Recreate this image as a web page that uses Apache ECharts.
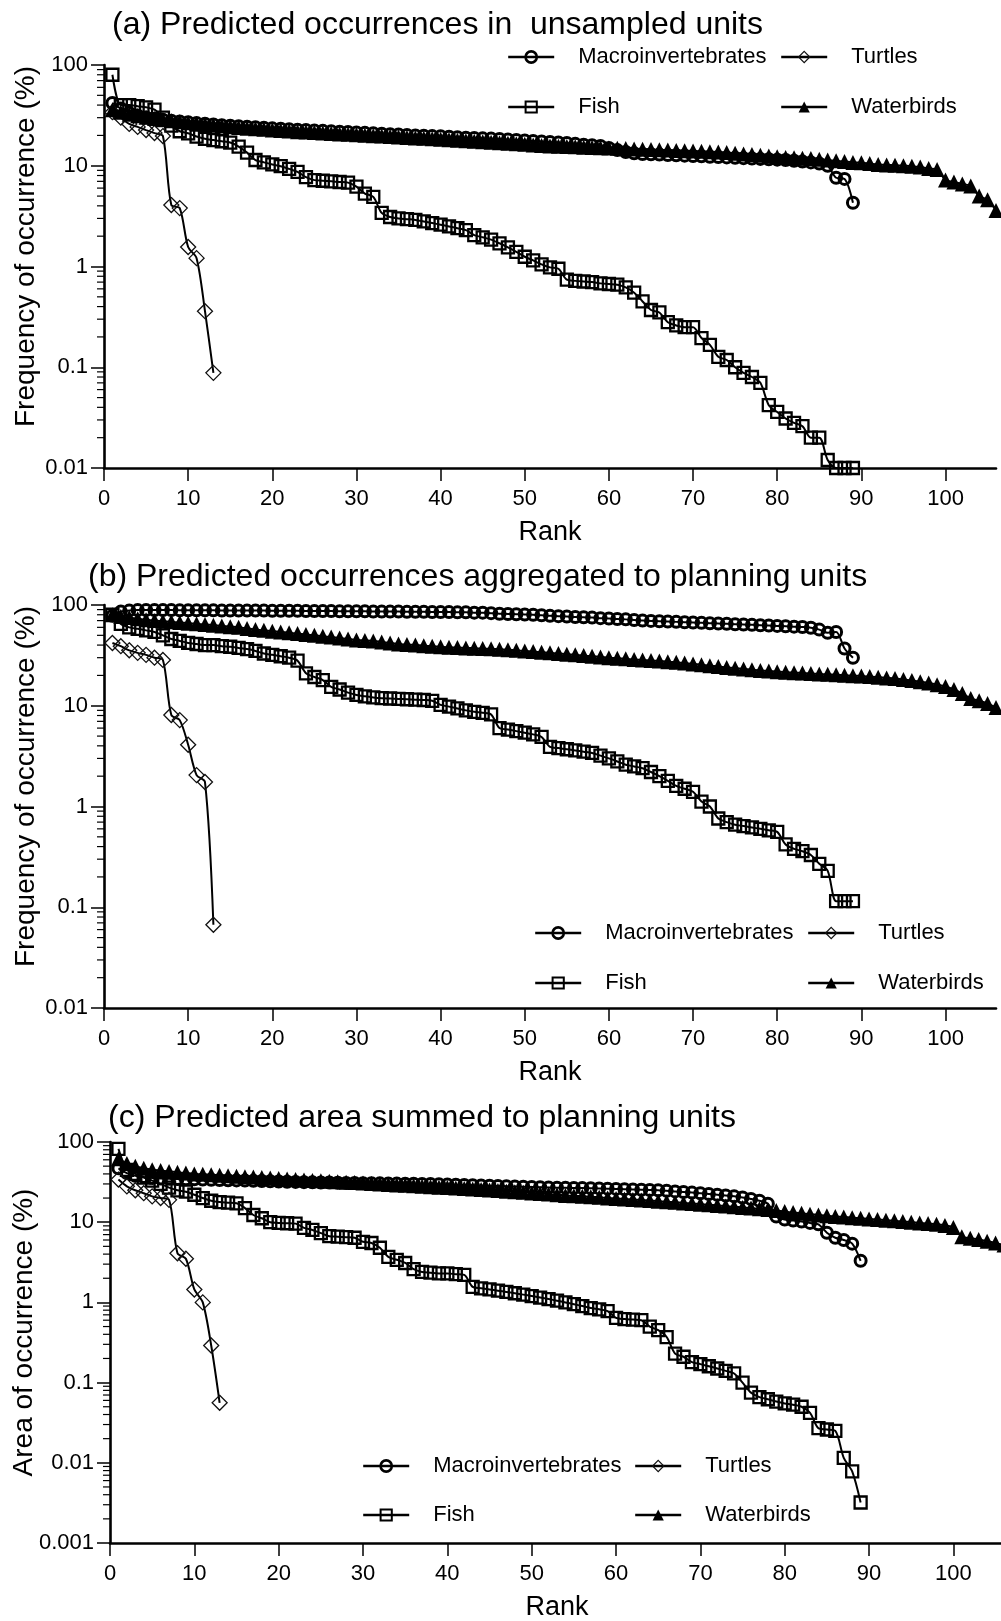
<!DOCTYPE html>
<html>
<head>
<meta charset="utf-8">
<script src="https://cdn.jsdelivr.net/npm/echarts@6/dist/echarts.min.js"></script>
<style>html,body{margin:0;padding:0;background:#fff}#c{width:1001px;height:1621px}</style>
</head>
<body>
<div id="c"></div>
<script>
// ---------- text ----------
const panelTitles = [
  '(a) Predicted occurrences in  unsampled units',
  '(b) Predicted occurrences aggregated to planning units',
  '(c) Predicted area summed to planning units'
];
const yAxisNames = ['Frequency of occurrence (%)', 'Frequency of occurrence (%)', 'Area of occurrence (%)'];
const xAxisName = 'Rank';
const seriesNames = ['Macroinvertebrates', 'Fish', 'Turtles', 'Waterbirds'];

// ---------- ticks ----------
const xTickValues = [0, 10, 20, 30, 40, 50, 60, 70, 80, 90, 100];
const yMinByPanel = [0.01, 0.01, 0.001];
const yMax = 100;
const minorMultipliers = [2, 3, 4, 5, 6, 7, 8, 9];

// ---------- data (value at rank 1, 2, 3, ...) ----------
// (a) Predicted occurrences in unsampled units
const macroA = [42, 37, 33.5, 31.5, 30.2, 29.3, 28.6, 28.0, 27.5, 27.0,
  26.5, 26.1, 25.7, 25.3, 25.0, 24.7, 24.4, 24.1, 23.8, 23.5,
  23.3, 23.0, 22.8, 22.6, 22.4, 22.2, 22.0, 21.8, 21.6, 21.4,
  21.2, 21.0, 20.8, 20.6, 20.4, 20.2, 20.0, 19.9, 19.7, 19.6,
  19.4, 19.2, 19.0, 18.9, 18.7, 18.6, 18.4, 18.2, 18.0, 17.8,
  17.6, 17.4, 17.2, 17.0, 16.8, 16.5, 16.2, 16.0, 15.7, 15.0,
  14.3, 13.7, 13.3, 13.1, 13.0, 12.9, 12.8, 12.7, 12.6, 12.5,
  12.4, 12.3, 12.2, 12.1, 12.0, 11.9, 11.8, 11.7, 11.6, 11.5,
  11.4, 11.2, 11.0, 10.8, 10.5, 10.0, 7.6, 7.4, 4.3];
const fishA = [80, 40, 40, 39, 38, 36, 30, 25, 22, 21,
  19.5, 18.5, 18, 17.5, 17, 15.5, 13.5, 11.4, 10.8, 10.3,
  9.9, 9.3, 8.7, 7.7, 7.2, 7.1, 7.0, 6.9, 6.8, 6.2,
  5.3, 4.9, 3.4, 3.1, 3.0, 2.95, 2.9, 2.8, 2.7, 2.6,
  2.5, 2.4, 2.3, 2.05, 1.95, 1.85, 1.7, 1.55, 1.4, 1.25,
  1.15, 1.05, 0.98, 0.95, 0.74, 0.72, 0.71, 0.70, 0.68, 0.67,
  0.66, 0.62, 0.55, 0.45, 0.37, 0.35, 0.28, 0.26, 0.25, 0.25,
  0.195, 0.167, 0.127, 0.118, 0.10, 0.088, 0.08, 0.07, 0.042, 0.036,
  0.031, 0.028, 0.026, 0.02, 0.02, 0.012, 0.01, 0.01, 0.01];
const turtlesA = [34, 30, 26, 24.3, 22.6, 21.1, 19.7, 4.07, 3.8, 1.56, 1.21, 0.36, 0.088];
const waterbirdsA = [36, 34, 32.5, 31.3, 30.3, 29.4, 28.6, 27.9, 27.3, 26.7,
  26.2, 25.7, 25.2, 24.8, 24.4, 24.0, 23.6, 23.3, 23.0, 22.7,
  22.4, 22.1, 21.8, 21.6, 21.4, 21.1, 20.9, 20.7, 20.5, 20.3,
  20.1, 19.9, 19.7, 19.5, 19.3, 19.1, 18.9, 18.7, 18.5, 18.3,
  18.1, 17.9, 17.7, 17.5, 17.3, 17.1, 16.9, 16.7, 16.5, 16.3,
  16.1, 15.9, 15.7, 15.6, 15.5, 15.4, 15.3, 15.2, 15.1, 15.0,
  14.9, 14.8, 14.7, 14.6, 14.5, 14.4, 14.3, 14.2, 14.1, 14.0,
  13.9, 13.8, 13.7, 13.5, 13.3, 13.1, 12.9, 12.7, 12.5, 12.3,
  12.1, 12.0, 11.9, 11.8, 11.6, 11.4, 11.2, 11.0, 10.8, 10.7,
  10.5, 10.3, 10.2, 10.1, 10.0, 9.9, 9.7, 9.4, 9.2, 7.2,
  6.9, 6.6, 6.3, 5.0, 4.6, 3.6];

// (b) Predicted occurrences aggregated to planning units
const macroB = [78, 86, 88, 89, 89, 89, 89, 89, 88.5, 88.5,
  88.5, 88.5, 88.5, 88, 88, 88, 88, 88, 88, 87.5,
  87.5, 87.5, 87.5, 87, 87, 87, 87, 86.5, 86.5, 86.5,
  86.5, 86, 86, 86, 86, 85.5, 85.5, 85.5, 85, 85,
  85, 84.5, 84.5, 84, 84, 83, 82, 81.5, 81, 80.5,
  80, 79, 78, 77.5, 77, 76, 75.5, 75, 74, 73.5,
  72.5, 72, 71, 70, 69.5, 69, 68.5, 68, 67.5, 67,
  66.5, 66, 65.5, 65, 64.5, 64, 63.5, 63, 62.5, 62,
  61.5, 61, 60.5, 59.5, 57, 53, 54, 37, 30];
const fishB = [80, 65, 60, 58, 56, 54, 50, 46, 44, 42,
  41, 40, 40, 39, 38.5, 37.5, 36.5, 35, 33, 32,
  31, 30, 28, 21, 19.3, 18, 15.4, 14.5, 13.5, 12.8,
  12.4, 12.1, 11.9, 11.8, 11.7, 11.6, 11.5, 11.4, 11.2, 10.2,
  9.8, 9.4, 9.0, 8.7, 8.5, 8.2, 6.0, 5.8, 5.6, 5.4,
  5.2, 4.9, 3.9, 3.8, 3.7, 3.6, 3.5, 3.4, 3.2, 3.0,
  2.8, 2.6, 2.5, 2.4, 2.2, 2.0, 1.8, 1.6, 1.5, 1.4,
  1.12, 1.0, 0.76, 0.7, 0.66, 0.64, 0.62, 0.6, 0.58, 0.56,
  0.42, 0.38, 0.36, 0.33, 0.27, 0.23, 0.115, 0.115, 0.115];
const turtlesB = [42, 39, 35.5, 33.5, 32, 30, 28.5, 8.1, 7.2, 4.1, 2.05, 1.75, 0.067];
const waterbirdsB = [80, 77, 75, 73, 71.5, 70, 69, 68, 67, 66,
  65, 64, 63, 62, 61, 60, 58.5, 57, 56, 55,
  54, 53, 52, 51, 50, 49, 48, 47, 46, 45,
  44.5, 44, 43, 42, 41, 40.5, 40, 39.5, 39, 38.5,
  38, 37.8, 37.5, 37.2, 37, 36.7, 36.4, 36, 35.5, 35,
  34.5, 34, 33.5, 33, 32.5, 32, 31.5, 31, 30.5, 30,
  29.6, 29.2, 28.8, 28.5, 28.2, 27.8, 27.4, 27, 26.5, 26,
  25.5, 25, 24.5, 24, 23.6, 23.2, 22.8, 22.4, 22.1, 21.8,
  21.5, 21.3, 21.1, 20.9, 20.7, 20.5, 20.3, 20.1, 19.9, 19.7,
  19.5, 19.2, 18.9, 18.6, 18.2, 17.8, 17.3, 16.8, 16.2, 15.5,
  14.5, 13.2, 11.8, 11.2, 10.5, 9.6];

// (c) Predicted area summed to planning units
const macroC = [47, 41, 38, 36.5, 35.5, 35, 34.8, 34.6, 34.4, 34.2,
  34, 33.8, 33.6, 33.4, 33.2, 33, 32.8, 32.6, 32.4, 32.2,
  32, 31.8, 31.6, 31.4, 31.3, 31.2, 31, 30.9, 30.8, 30.7,
  30.6, 30.5, 30.4, 30.3, 30.2, 30.1, 30, 29.9, 29.7, 29.5,
  29.3, 29.1, 28.9, 28.7, 28.5, 28.3, 28.1, 27.9, 27.7, 27.5,
  27.3, 27.1, 26.9, 26.8, 26.7, 26.6, 26.5, 26.4, 26.2, 26,
  25.8, 25.6, 25.4, 25.2, 25, 24.6, 24.2, 23.8, 23.4, 23,
  22.5, 22, 21.5, 21, 20.3, 19.5, 18.5, 17, 11.8, 10.8,
  10.5, 10.2, 9.8, 9.4, 7.4, 6.4, 6.0, 5.4, 3.3];
const fishC = [82, 45, 40, 36, 33, 30, 27, 25, 24, 22,
  20, 18.5, 17.8, 17.5, 17.2, 15, 12.3, 11.2, 10, 9.8,
  9.7, 9.6, 8.5, 8.0, 7.3, 6.7, 6.6, 6.5, 6.4, 5.7,
  5.5, 4.8, 3.7, 3.4, 3.1, 2.6, 2.4, 2.35, 2.3, 2.3,
  2.25, 2.2, 1.56, 1.5, 1.45, 1.4, 1.35, 1.3, 1.25, 1.2,
  1.15, 1.1, 1.05, 1.0, 0.95, 0.9, 0.85, 0.82, 0.78, 0.64,
  0.62, 0.61, 0.60, 0.5, 0.45, 0.37, 0.23, 0.21, 0.18, 0.17,
  0.16, 0.15, 0.14, 0.13, 0.1, 0.075, 0.066, 0.062, 0.058, 0.055,
  0.053, 0.05, 0.042, 0.027, 0.026, 0.025, 0.0115, 0.0078, 0.0032];
const turtlesC = [34, 28, 25, 23, 21, 20, 19, 4.1, 3.5, 1.45, 1.0, 0.29, 0.056];
const waterbirdsC = [62, 54, 50, 47, 45, 44, 43, 42, 41, 40,
  39.5, 39, 38.5, 38, 37.5, 37, 36.5, 36, 35.5, 35,
  34.5, 34, 33.5, 33.2, 32.8, 32.4, 32, 31.6, 31.2, 30.8,
  30.4, 30, 29.6, 29.2, 28.8, 28.4, 28, 27.6, 27.3, 27,
  26.6, 26.3, 26, 25.6, 25.2, 24.8, 24.4, 24, 23.6, 23.2,
  22.8, 22.4, 22, 21.6, 21.3, 21, 20.7, 20.4, 20.1, 19.8,
  19.5, 19.2, 18.9, 18.6, 18.3, 18, 17.7, 17.4, 17.1, 16.8,
  16.5, 16.2, 15.9, 15.6, 15.3, 15, 14.7, 14.4, 14, 13.6,
  13.2, 12.9, 12.6, 12.3, 12, 11.8, 11.6, 11.4, 11.2, 11,
  10.8, 10.6, 10.4, 10.2, 10, 9.8, 9.6, 9.4, 9.1, 8.6,
  6.6, 6.3, 6.1, 5.8, 5.5, 5.2];

const panels = [
  [macroA, fishA, turtlesA, waterbirdsA],
  [macroB, fishB, turtlesB, waterbirdsB],
  [macroC, fishC, turtlesC, waterbirdsC]
];

// ---------- layout / style ----------
const FONT = '"Liberation Sans", Arial, Helvetica, sans-serif';
const grids = [
  {left: 104, top: 65, width: 892, height: 403},
  {left: 104, top: 605, width: 892, height: 403},
  {left: 110, top: 1142, width: 894, height: 401}
];
const titlePos = [{left: 112, top: 9}, {left: 88, top: 561}, {left: 108, top: 1102}];
const yNameGap = [64, 64, 72];
const yNamePad = [[0, 0, 0, 40], [0, 0, 0, 40], [0, 0, 0, 20]];
const legendPos = [
  {c1: 507, c2: 780, top: 46, gap: 28},
  {c1: 534, c2: 807, top: 922, gap: 28},
  {c1: 362, c2: 634, top: 1455, gap: 27}
];
const symbolStyles = [
  {symbol: 'circle', symbolSize: 11, itemStyle: {color: 'rgba(0,0,0,0)', borderColor: '#000', borderWidth: 3}},
  {symbol: 'rect', symbolSize: 12, itemStyle: {color: 'rgba(0,0,0,0)', borderColor: '#000', borderWidth: 2.3}},
  {symbol: 'diamond', symbolSize: 15, itemStyle: {color: 'rgba(0,0,0,0)', borderColor: '#111', borderWidth: 1.3}},
  {symbol: 'triangle', symbolSize: 15, itemStyle: {color: '#000', borderWidth: 0}}
];
const legendBorder = [2.6, 2, 1.2, 0];

const option = {
  animation: false,
  backgroundColor: '#fff',
  textStyle: {fontFamily: FONT, color: '#000'},
  title: panelTitles.map((t, i) => ({
    text: t, left: titlePos[i].left, top: titlePos[i].top, padding: 0,
    textStyle: {fontFamily: FONT, fontSize: 32, fontWeight: 'normal', color: '#000'}
  })),
  grid: grids.map(g => Object.assign({containLabel: false, outerBoundsMode: 'none'}, g)),
  legend: [],
  xAxis: grids.map((g, i) => ({
    gridIndex: i, type: 'value', min: 0, max: 106, interval: 10,
    name: xAxisName, nameLocation: 'middle', nameGap: 51,
    nameTextStyle: {fontFamily: FONT, fontSize: 27, color: '#000'},
    axisLine: {show: true, onZero: false, lineStyle: {color: '#000', width: 2.6}},
    axisTick: {show: true, length: 13, customValues: xTickValues, lineStyle: {color: '#000', width: 1.5}},
    axisLabel: {show: true, margin: 20, customValues: xTickValues, fontFamily: FONT, fontSize: 22, color: '#000'},
    splitLine: {show: false}
  })),
  yAxis: grids.map((g, i) => ({
    gridIndex: i, type: 'log', logBase: 10, min: yMinByPanel[i], max: yMax,
    name: yAxisNames[i], nameLocation: 'middle', nameGap: yNameGap[i], nameRotate: 90,
    nameMoveOverlap: false,
    nameTextStyle: {fontFamily: FONT, fontSize: 28, color: '#000', padding: yNamePad[i]},
    axisLine: {show: true, onZero: false, lineStyle: {color: '#000', width: 2.6}},
    axisTick: {show: true, length: 13, lineStyle: {color: '#000', width: 1.5}},
    axisLabel: {show: true, margin: 16, fontFamily: FONT, fontSize: 22, color: '#000'},
    splitLine: {show: false}
  })),
  series: []
};

panels.forEach((vals, p) => {
  const lp = legendPos[p];
  const legendBase = {
    orient: 'vertical', padding: 0, itemWidth: 46, itemHeight: 14, itemGap: lp.gap,
    selectedMode: false, top: lp.top,
    lineStyle: {width: 2.4, color: '#000'},
    textStyle: {fontFamily: FONT, fontSize: 22, color: '#000', lineHeight: 22, padding: [0, 0, 0, 19]}
  };
  const item = s => ({name: seriesNames[s], itemStyle: {borderWidth: legendBorder[s]}});
  option.legend.push(Object.assign({}, legendBase, {left: lp.c1, data: [item(0), item(1)]}));
  option.legend.push(Object.assign({}, legendBase, {left: lp.c2, data: [item(2), item(3)]}));

  vals.forEach((arr, s) => {
    option.series.push(Object.assign({
      type: 'line', name: seriesNames[s], xAxisIndex: p, yAxisIndex: p,
      data: arr.map((v, k) => [k + 1, v]),
      smooth: 0.3, clip: true,
      lineStyle: {color: '#000', width: 2},
      emphasis: {disabled: true}, z: 2 + s
    }, JSON.parse(JSON.stringify(symbolStyles[s]))));
  });

  // minor log ticks on the y axis (2..9 within each decade), placed through the axis scale
  const minorVals = [];
  for (let e = Math.round(Math.log10(yMinByPanel[p])); e < 2; e++) {
    minorMultipliers.forEach(m => minorVals.push([0, +(m * Math.pow(10, e)).toPrecision(3)]));
  }
  option.series.push({
    type: 'custom', xAxisIndex: p, yAxisIndex: p, silent: true, clip: false, z: 1,
    data: minorVals,
    renderItem: function (params, api) {
      const pt = api.coord([api.value(0), api.value(1)]);
      return {type: 'line', shape: {x1: pt[0] - 7, y1: pt[1], x2: pt[0], y2: pt[1]},
        style: {stroke: '#000', lineWidth: 1.2}};
    }
  });
});

const chart = echarts.init(document.getElementById('c'), null, {renderer: 'canvas', width: 1001, height: 1621});
chart.setOption(option);
</script>
</body>
</html>
